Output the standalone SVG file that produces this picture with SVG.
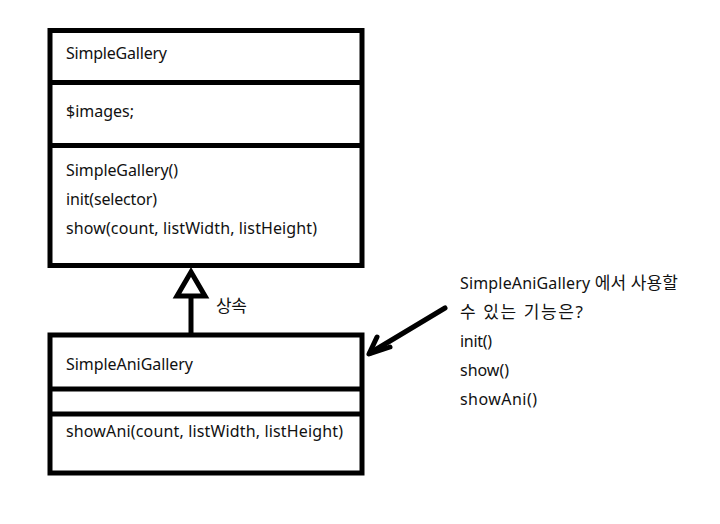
<svg xmlns="http://www.w3.org/2000/svg" width="720" height="524" viewBox="0 0 720 524">
<style>
.box{fill:#fff;stroke:#000;stroke-width:5}
.div{stroke:#000;stroke-width:5}
text{font-family:"Noto Sans","Noto Sans CJK KR",sans-serif;font-size:16px;fill:#111}
.ko{font-size:17px}
.ln{fill:none;stroke:#000;stroke-width:5}
</style>
<rect width="720" height="524" fill="#fff"/>
<g id="connectors">
<line class="ln" x1="191" y1="296" x2="191" y2="333"/>
<polygon points="191,272 177,296 205,296" fill="#fff" stroke="#000" stroke-width="5" stroke-linejoin="miter"/>
<line class="ln" x1="445" y1="308" x2="370" y2="353" stroke-linecap="round"/>
<polyline class="ln" points="377,337 369,354 390,347" stroke-linecap="round" stroke-linejoin="round"/>
<text class="ko" x="216" y="312" textLength="31">상속</text>
</g>
<g id="SimpleGallery">
<rect class="box" x="50" y="30.5" width="312" height="235"/>
<line class="div" x1="50" y1="82.5" x2="362" y2="82.5"/>
<line class="div" x1="50" y1="145.5" x2="362" y2="145.5"/>
<text x="66" y="59" textLength="101">SimpleGallery</text>
<text x="66" y="117" textLength="68">$images;</text>
<text x="66" y="176" textLength="112">SimpleGallery()</text>
<text x="66" y="205" textLength="91">init(selector)</text>
<text x="66" y="234" textLength="251">show(count, listWidth, listHeight)</text>
</g>
<g id="SimpleAniGallery">
<rect class="box" x="50" y="335" width="312" height="138"/>
<line class="div" x1="50" y1="389" x2="362" y2="389"/>
<line class="div" x1="50" y1="414" x2="362" y2="414"/>
<text x="66" y="370" textLength="127">SimpleAniGallery</text>
<text x="66" y="437" textLength="277">showAni(count, listWidth, listHeight)</text>
</g>
<g id="note">
<text x="460" y="289" textLength="218">SimpleAniGallery <tspan class="ko">에서 사용할</tspan></text>
<text class="ko" x="460" y="318" textLength="123">수 있는 기능은?</text>
<text x="460" y="347" textLength="32">init()</text>
<text x="460" y="376" textLength="49">show()</text>
<text x="460" y="405" textLength="77">showAni()</text>
</g>
</svg>
